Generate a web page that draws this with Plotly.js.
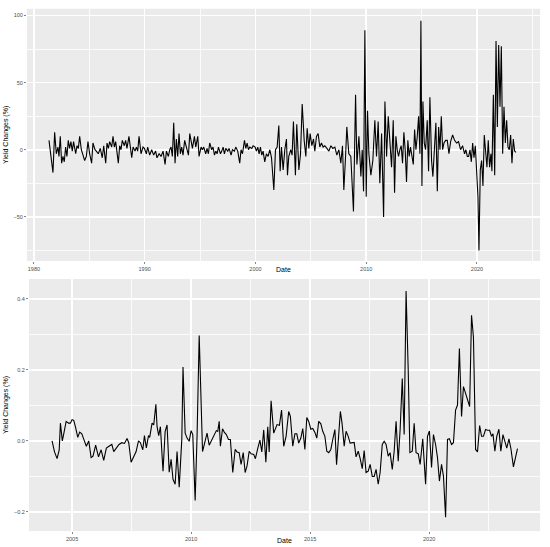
<!DOCTYPE html>
<html>
<head>
<meta charset="utf-8">
<script src="https://cdn.plot.ly/plotly-3.0.1.min.js"></script>
<style>
  html, body { margin: 0; padding: 0; background: #fff; }
  #plotArea { width: 550px; height: 547px; }
</style>
</head>
<body>
<div id="plotArea"></div>
<script>
// Top panel: long history (decimal years, yield change in %)
var topDates = [
  1981.36, 1981.51, 1981.72, 1981.87, 1982.02, 1982.17, 1982.26, 1982.38, 1982.50, 1982.62,
  1982.74, 1982.86, 1982.98, 1983.10, 1983.22, 1983.34, 1983.46, 1983.58, 1983.77, 1983.89,
  1984.01, 1984.13, 1984.28, 1984.43, 1984.58, 1984.73, 1984.88, 1985.03, 1985.21, 1985.33,
  1985.51, 1985.63, 1985.81, 1985.99, 1986.17, 1986.30, 1986.48, 1986.60, 1986.72, 1986.84,
  1987.02, 1987.14, 1987.26, 1987.38, 1987.50, 1987.62, 1987.74, 1987.86, 1987.98, 1988.16,
  1988.28, 1988.40, 1988.58, 1988.70, 1988.83, 1988.95, 1989.13, 1989.25, 1989.37, 1989.49,
  1989.67, 1989.85, 1989.97, 1990.15, 1990.27, 1990.45, 1990.63, 1990.81, 1990.99, 1991.11,
  1991.30, 1991.48, 1991.66, 1991.84, 1991.96, 1992.14, 1992.26, 1992.38, 1992.50, 1992.62,
  1992.74, 1992.86, 1992.98, 1993.10, 1993.22, 1993.34, 1993.46, 1993.61, 1993.77, 1993.95,
  1994.07, 1994.19, 1994.31, 1994.49, 1994.61, 1994.79, 1994.91, 1995.09, 1995.21, 1995.33,
  1995.51, 1995.63, 1995.75, 1995.87, 1996.05, 1996.17, 1996.30, 1996.42, 1996.54, 1996.66,
  1996.84, 1996.96, 1997.08, 1997.20, 1997.32, 1997.50, 1997.62, 1997.80, 1997.92, 1998.10,
  1998.22, 1998.40, 1998.58, 1998.70, 1998.83, 1999.01, 1999.13, 1999.25, 1999.37, 1999.49,
  1999.67, 1999.79, 1999.97, 2000.09, 2000.21, 2000.33, 2000.45, 2000.57, 2000.69, 2000.84,
  2000.99, 2001.14, 2001.30, 2001.45, 2001.66, 2001.81, 2001.96, 2002.11, 2002.23, 2002.35,
  2002.50, 2002.65, 2002.80, 2002.89, 2003.01, 2003.19, 2003.31, 2003.43, 2003.61, 2003.73,
  2003.92, 2004.07, 2004.22, 2004.40, 2004.55, 2004.67, 2004.82, 2004.94, 2005.09, 2005.24,
  2005.36, 2005.51, 2005.66, 2005.81, 2005.96, 2006.11, 2006.26, 2006.45, 2006.63, 2006.81,
  2006.99, 2007.17, 2007.35, 2007.53, 2007.71, 2007.86, 2007.98, 2008.13, 2008.25, 2008.43,
  2008.61, 2008.85, 2009.04, 2009.16, 2009.34, 2009.52, 2009.64, 2009.76, 2009.88, 2010.00,
  2010.12, 2010.24, 2010.42, 2010.60, 2010.78, 2010.93, 2011.08, 2011.23, 2011.39, 2011.57,
  2011.69, 2011.84, 2011.99, 2012.29, 2012.44, 2012.56, 2012.68, 2012.80, 2012.92, 2013.04,
  2013.16, 2013.28, 2013.40, 2013.52, 2013.64, 2013.76, 2013.88, 2014.00, 2014.13, 2014.25,
  2014.37, 2014.49, 2014.61, 2014.73, 2014.85, 2014.94, 2015.03, 2015.12, 2015.24, 2015.36,
  2015.51, 2015.63, 2015.75, 2015.90, 2016.02, 2016.17, 2016.29, 2016.42, 2016.54, 2016.66,
  2016.78, 2016.90, 2017.02, 2017.17, 2017.32, 2017.47, 2017.62, 2017.80, 2017.98, 2018.16,
  2018.34, 2018.52, 2018.70, 2018.88, 2019.00, 2019.13, 2019.25, 2019.37, 2019.49, 2019.61,
  2019.73, 2019.85, 2019.97, 2020.09, 2020.18, 2020.30, 2020.42, 2020.54, 2020.66, 2020.78,
  2020.90, 2021.02, 2021.14, 2021.26, 2021.35, 2021.48, 2021.60, 2021.72, 2021.84, 2021.96,
  2022.08, 2022.20, 2022.32, 2022.44, 2022.56, 2022.68, 2022.80, 2022.92, 2023.04, 2023.16,
  2023.28, 2023.40, 2023.52
];
var topChange = [
  7, -5, -17, 13, -3, 2, -5, 10, -10, -5,
  -9, 2, -5, 7, 1, 6, -1, 6, -3, 3,
  1, 10, 0, -4, -8, -5, 6, -3, -10, 5,
  0, -1, -3, 1, -6, 3, -10, 5, 1, 6,
  2, 10, 2, 6, -4, -10, 3, 0, 7, 3,
  7, 1, 10, 0, -6, 2, -1, 2, -1, 10,
  -3, 2, 1, -3, 2, -4, 0, -4, -1, -6,
  -3, -5, -1, -11, -1, -5, 0, 2, -5, 20,
  -10, 8, -5, 12, -3, 2, -4, 7, 1, -4,
  12, 7, 1, 10, 2, 10, -5, 2, 0, 2,
  -3, 1, -3, 5, 0, 2, -4, -1, -3, 2,
  -3, -1, 2, -3, 1, -1, 1, -4, 0, -1,
  2, -1, -10, 0, -3, 7, 1, 5, 0, 2,
  1, 3, 2, -1, 2, -3, 2, -4, -1, -9,
  -3, -5, 0, -6, -30, 0, 2, 18, -16, 2,
  -15, 0, 8, -19, -5, 0, -4, 21, -19, 19,
  -15, -3, 34, 7, -5, 16, 1, 12, 3, 8,
  -1, 10, 12, 2, 5, 2, 3, 1, -1, 3,
  1, 2, -4, 0, -10, 3, -30, -6, 17, -3,
  -5, -46, 41, -11, 10, -20, 0, -31, 89, -35,
  29, -3, -19, -8, 22, -5, 21, -25, 12, -50,
  36, -5, 25, -13, 22, -32, 10, 0, -5, 0,
  3, -10, 13, 0, -24, 7, -5, 2, -5, -11,
  15, 0, 10, 25, -3, 96, -27, 36, 5, 0,
  22, -16, 39, -8, -20, 2, 20, -31, 17, 0,
  25, 0, 5, 7, 7, -3, 6, 11, 7, 5,
  6, 0, 3, -3, 0, -5, -5, 0, -9, 5,
  -6, 3, -13, -35, -75, -15, -8, -27, 11, -3,
  -13, 7, -13, -3, -16, 41, -19, 81, 17, 78,
  32, 77, -3, 32, 5, 22, 2, 0, 11, -10,
  8, -1, -2
];

// Bottom panel: recent period (decimal years, yield change in %)
var botDates = [
  2004.16, 2004.26, 2004.37, 2004.46, 2004.51, 2004.59, 2004.65, 2004.75, 2004.85, 2004.93,
  2005.00, 2005.07, 2005.14, 2005.24, 2005.32, 2005.41, 2005.49, 2005.60, 2005.70, 2005.80,
  2005.88, 2005.99, 2006.11, 2006.22, 2006.33, 2006.44, 2006.55, 2006.67, 2006.75, 2006.86,
  2006.97, 2007.09, 2007.20, 2007.31, 2007.38, 2007.48, 2007.59, 2007.69, 2007.79, 2007.87,
  2007.97, 2008.04, 2008.12, 2008.21, 2008.26, 2008.36, 2008.43, 2008.52, 2008.57, 2008.64,
  2008.71, 2008.82, 2008.91, 2008.99, 2009.08, 2009.16, 2009.24, 2009.33, 2009.41, 2009.50,
  2009.61, 2009.66, 2009.75, 2009.83, 2009.92, 2010.00, 2010.07, 2010.17, 2010.25, 2010.34,
  2010.48, 2010.56, 2010.67, 2010.76, 2010.87, 2010.95, 2011.06, 2011.12, 2011.18, 2011.23,
  2011.32, 2011.40, 2011.48, 2011.57, 2011.65, 2011.75, 2011.85, 2011.93, 2012.02, 2012.10,
  2012.19, 2012.27, 2012.35, 2012.44, 2012.52, 2012.63, 2012.70, 2012.80, 2012.89, 2012.97,
  2013.05, 2013.14, 2013.22, 2013.28, 2013.36, 2013.47, 2013.61, 2013.71, 2013.80, 2013.89,
  2013.99, 2014.10, 2014.17, 2014.27, 2014.36, 2014.44, 2014.52, 2014.61, 2014.69, 2014.78,
  2014.86, 2014.94, 2015.03, 2015.11, 2015.20, 2015.28, 2015.36, 2015.45, 2015.53, 2015.62,
  2015.70, 2015.78, 2015.87, 2015.95, 2016.04, 2016.11, 2016.20, 2016.27, 2016.34, 2016.43,
  2016.51, 2016.60, 2016.68, 2016.77, 2016.85, 2016.93, 2017.02, 2017.10, 2017.19, 2017.27,
  2017.35, 2017.44, 2017.52, 2017.61, 2017.69, 2017.77, 2017.86, 2017.94, 2018.03, 2018.11,
  2018.19, 2018.28, 2018.36, 2018.45, 2018.53, 2018.61, 2018.70, 2018.78, 2018.87, 2018.95,
  2019.03, 2019.12, 2019.19, 2019.29, 2019.37, 2019.45, 2019.54, 2019.62, 2019.73, 2019.85,
  2019.93, 2020.01, 2020.10, 2020.18, 2020.27, 2020.35, 2020.43, 2020.52, 2020.60, 2020.69,
  2020.77, 2020.85, 2020.94, 2021.02, 2021.11, 2021.19, 2021.27, 2021.36, 2021.44, 2021.53,
  2021.61, 2021.70, 2021.78, 2021.86, 2021.95, 2022.03, 2022.12, 2022.20, 2022.28, 2022.37,
  2022.45, 2022.54, 2022.62, 2022.68, 2022.76, 2022.84, 2022.93, 2023.01, 2023.10, 2023.18,
  2023.26, 2023.35, 2023.43, 2023.54, 2023.63, 2023.71
];
var botChange = [
  0.000, -0.030, -0.050, -0.025, 0.050, 0.000, 0.020, 0.055, 0.050, 0.050,
  0.060, 0.058, 0.040, 0.010, 0.025, 0.020, 0.005, -0.015, 0.000, -0.047,
  -0.043, -0.012, -0.045, -0.025, -0.055, -0.020, -0.015, -0.010, -0.030, -0.018,
  -0.010, -0.005, -0.007, 0.007, -0.005, -0.060, -0.043, -0.030, 0.000, -0.005,
  -0.025, 0.015, -0.020, 0.015, 0.010, 0.050, 0.045, 0.103, 0.040, 0.015,
  0.040, -0.085, 0.027, 0.045, -0.088, -0.052, -0.108, -0.122, -0.030, -0.130,
  0.005, 0.208, 0.022, 0.008, -0.001, 0.029, 0.018, -0.168, 0.013, 0.297,
  -0.030, -0.005, 0.022, -0.012, 0.004, 0.013, 0.029, 0.027, 0.055, -0.015,
  0.034, 0.024, 0.018, 0.004, 0.004, -0.089, -0.024, -0.031, -0.033, -0.066,
  -0.033, -0.089, -0.070, -0.029, -0.036, -0.038, -0.050, -0.021, 0.002, -0.031,
  0.031, -0.060, 0.040, -0.031, 0.113, 0.022, 0.046, 0.044, 0.087, -0.015,
  0.013, 0.083, 0.069, -0.015, 0.020, 0.020, -0.006, 0.008, 0.035, -0.024,
  0.066, 0.055, 0.033, 0.035, 0.024, 0.008, 0.055, 0.048, 0.027, 0.013,
  -0.029, -0.033, -0.024, 0.004, 0.032, -0.067, 0.032, 0.083, 0.050, -0.015,
  0.027, 0.013, -0.006, -0.006, -0.004, -0.045, -0.029, -0.049, -0.078, -0.027,
  -0.089, -0.085, -0.066, -0.100, -0.100, -0.080, -0.122, -0.089, -0.010, -0.001,
  -0.010, -0.043, -0.033, -0.080, -0.029, 0.055, -0.057, 0.032, 0.176, 0.018,
  0.422, 0.199, -0.033, -0.029, 0.050, -0.033, -0.036, -0.066, 0.006, -0.122,
  0.013, 0.028, -0.075, 0.018, -0.010, -0.047, -0.113, -0.066, -0.099, -0.215,
  0.004, 0.006, -0.010, -0.005, 0.087, 0.101, 0.260, 0.069, 0.153, 0.134,
  0.115, 0.097, 0.354, 0.292, -0.024, -0.031, 0.043, 0.013, 0.013, 0.032,
  0.030, 0.030, 0.013, 0.020, -0.029, 0.013, 0.033, -0.029, 0.018, -0.004,
  -0.020, 0.006, -0.020, -0.073, -0.043, -0.022
];

// Tick positions
var topYearTicks = [1980, 1990, 2000, 2010, 2020];
var topChangeTicks = [-50, 0, 50, 100];
var botYearTicks = [2005, 2010, 2015, 2020];
var botChangeTicks = [-0.2, 0.0, 0.2, 0.4];

// ggplot grey theme bits
var tickFont = { family: "Liberation Sans, Arial, sans-serif", size: 5.5, color: "#4D4D4D" };
var titleFont = { family: "Liberation Sans, Arial, sans-serif", size: 7, color: "#000000" };

function ggAxis(extra) {
  var ax = {
    showgrid: true,
    gridcolor: "#FFFFFF",
    gridwidth: 1.6,
    zeroline: false,
    showline: false,
    ticks: "outside",
    ticklen: 2,
    tickwidth: 0.6,
    tickcolor: "#333333",
    tickfont: tickFont,
    fixedrange: true,
  };
  for (var k in extra) ax[k] = extra[k];
  return ax;
}

var data = [
  {
    x: topDates,
    y: topChange,
    type: "scatter",
    mode: "lines",
    line: { color: "#000000", width: 1.1 },
    xaxis: "x",
    yaxis: "y",
    showlegend: false,
  },
  {
    x: botDates,
    y: botChange,
    type: "scatter",
    mode: "lines",
    line: { color: "#000000", width: 1.1 },
    xaxis: "x2",
    yaxis: "y2",
    showlegend: false,
  },
];

var layout = {
  width: 550,
  height: 547,
  margin: { l: 0, r: 0, t: 0, b: 0 },
  paper_bgcolor: "#FFFFFF",
  plot_bgcolor: "#EBEBEB",
  showlegend: false,
  xaxis: ggAxis({
    domain: [0.049, 0.982],
    anchor: "y",
    range: [1979.37, 2025.7],
    tickvals: topYearTicks,
    minor: { dtick: 5, tick0: 1980, showgrid: true, gridcolor: "#FFFFFF", gridwidth: 0.8 },
  }),
  yaxis: ggAxis({
    domain: [0.523, 0.984],
    anchor: "x",
    range: [-82.8, 105],
    tickvals: topChangeTicks,
    minor: { dtick: 25, tick0: 0, showgrid: true, gridcolor: "#FFFFFF", gridwidth: 0.8 },
    title: { text: "Yield Changes (%)", font: titleFont, standoff: 4 },
  }),
  xaxis2: ggAxis({
    domain: [0.0527, 0.982],
    anchor: "y2",
    range: [2003.19, 2024.66],
    tickvals: botYearTicks,
    minor: { dtick: 2.5, tick0: 2005, showgrid: true, gridcolor: "#FFFFFF", gridwidth: 0.8 },
  }),
  yaxis2: ggAxis({
    domain: [0.029, 0.49],
    anchor: "x2",
    range: [-0.254, 0.456],
    tickvals: botChangeTicks,
    tickformat: ".1f",
    minor: { dtick: 0.1, tick0: 0, showgrid: true, gridcolor: "#FFFFFF", gridwidth: 0.8 },
    title: { text: "Yield Changes (%)", font: titleFont, standoff: 4 },
  }),
  // x titles placed as in the reference (sit right under the tick labels)
  annotations: [
    { text: "Date", xref: "paper", yref: "paper", x: 283 / 550, y: 1 - 269 / 547,
      xanchor: "center", yanchor: "middle", showarrow: false, font: titleFont },
    { text: "Date", xref: "paper", yref: "paper", x: 284 / 550, y: 1 - 540 / 547,
      xanchor: "center", yanchor: "middle", showarrow: false, font: titleFont },
  ],
};

Plotly.newPlot("plotArea", data, layout, { displayModeBar: false, staticPlot: true });
</script>
</body>
</html>
